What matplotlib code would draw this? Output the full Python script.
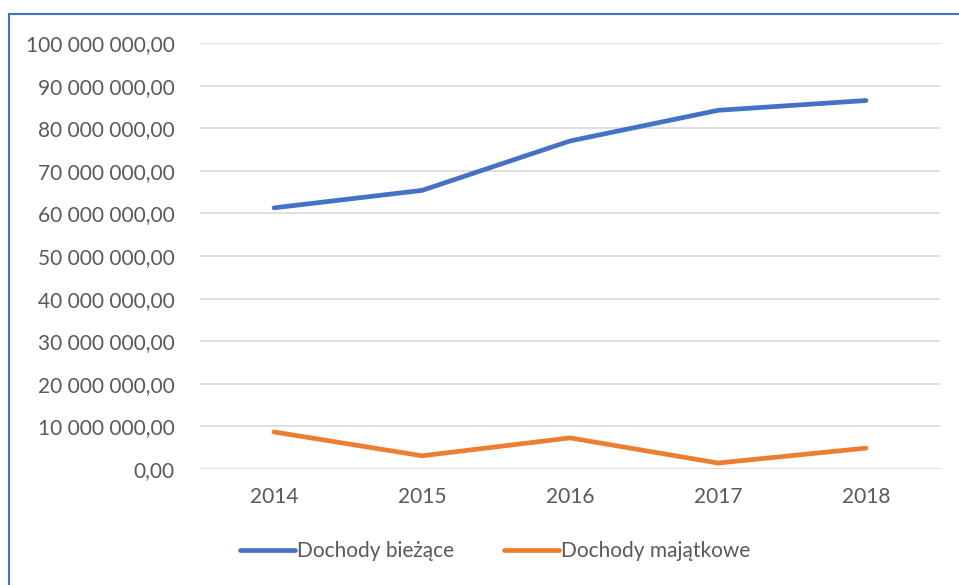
import matplotlib.pyplot as plt
from matplotlib.lines import Line2D
from matplotlib.ticker import FuncFormatter

# Dane
lata = ["2014", "2015", "2016", "2017", "2018"]
dochody_biezace = [61_300_000, 65_400_000, 77_000_000, 84_200_000, 86_500_000]
dochody_majatkowe = [8_700_000, 3_100_000, 7_300_000, 1_400_000, 4_900_000]

plt.rcParams["font.family"] = ["Lato", "DejaVu Sans"]


def fmt_pl(v, pos):
    s = f"{v:,.2f}"
    return s.replace(",", " ").replace(".", ",")


fig = plt.figure(figsize=(9.59, 5.85), dpi=100)
ax = fig.add_axes([200 / 959, 1 - 469 / 585, 740 / 959, (469 - 43) / 585])

x = range(len(lata))
ax.plot(x, dochody_biezace, color="#4472C4", linewidth=3.4,
        solid_capstyle="round", label="Dochody bieżące")
ax.plot(x, dochody_majatkowe, color="#ED7D31", linewidth=3.4,
        solid_capstyle="round", label="Dochody majątkowe")

ax.set_xlim(-0.5, len(lata) - 0.5)
ax.set_ylim(0, 100_000_000)
ax.set_yticks(range(0, 100_000_001, 10_000_000))
ax.yaxis.set_major_formatter(FuncFormatter(fmt_pl))
ax.set_xticks(list(x))
ax.set_xticklabels(lata)
ax.tick_params(axis="both", length=0, labelsize=15, labelcolor="#595959")
ax.tick_params(axis="y", pad=18)
ax.tick_params(axis="x", pad=13)
ax.grid(axis="y", color="#D9D9D9", linewidth=1.2)
ax.set_axisbelow(True)
for s in ax.spines.values():
    s.set_visible(False)

fig.legend(loc="center", bbox_to_anchor=(495 / 959, 1 - 551 / 585), ncol=2,
           frameon=False, fontsize=15, labelcolor="#595959",
           handlelength=2.65, handletextpad=0.1, columnspacing=2.4)

# ramka wykresu
fig.add_artist(Line2D([9 / 959, 9 / 959], [0, 1 - 14 / 585], color="#4472C4",
                      linewidth=1.5, transform=fig.transFigure))
fig.add_artist(Line2D([9 / 959, 1], [1 - 14 / 585, 1 - 14 / 585], color="#4472C4",
                      linewidth=1.5, transform=fig.transFigure))

fig.savefig("out.png", dpi=100)
